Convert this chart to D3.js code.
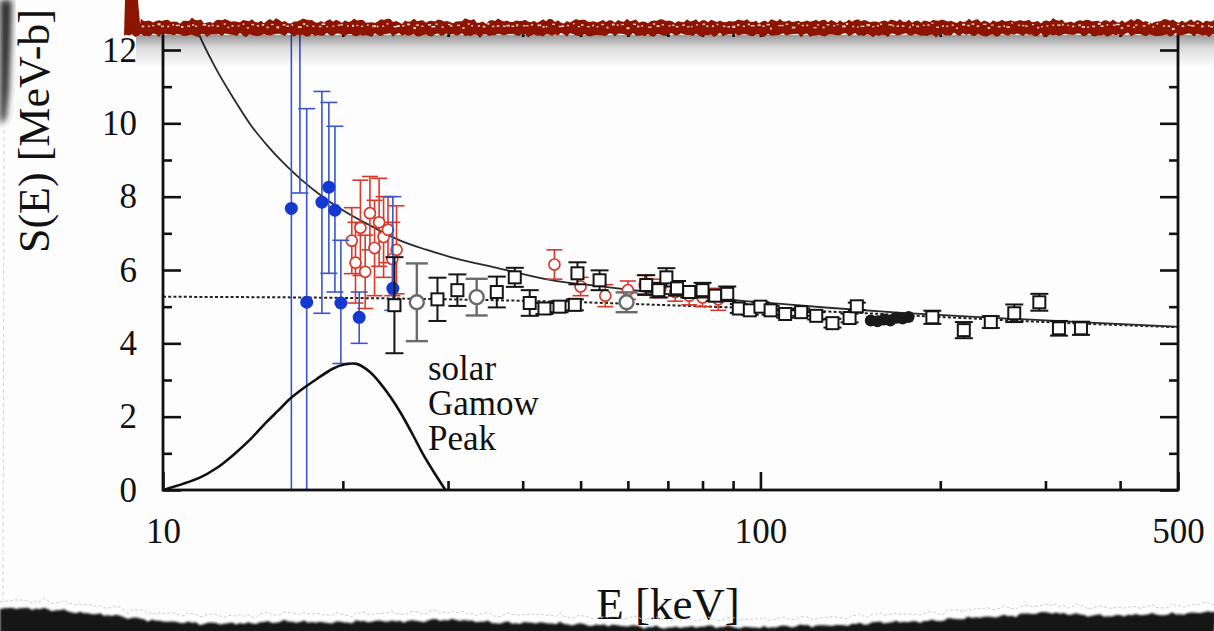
<!DOCTYPE html>
<html>
<head>
<meta charset="utf-8">
<script src="https://cdn.jsdelivr.net/npm/d3@7"></script>
<style>
  html, body { margin: 0; padding: 0; background: #ffffff; }
  svg { display: block; }
</style>
</head>
<body>
<svg id="chart" width="1214" height="631"></svg>
<script>
// ---- Astrophysical S-factor data, S(E) in MeV-b vs. centre-of-mass energy E in keV ----

// Screened theory curve (solid)
const theoryE = [11.0, 11.4, 12.2, 13.1, 14.0, 14.9, 16.0, 17.0, 18.5, 20.0, 22.0, 24.9, 27.5, 30.2, 36.6, 44.4, 55, 65, 80, 100, 130, 170, 250, 350, 500];
const theoryS = [13.2, 12.55, 11.56, 10.7, 9.97, 9.42, 8.88, 8.48, 8.0, 7.63, 7.25, 6.81, 6.56, 6.36, 6.04, 5.73, 5.54, 5.40, 5.25, 5.12, 4.97, 4.84, 4.69, 4.57, 4.45];

// Bare-nucleus S-factor (dotted)
const bareE = [10, 20, 30, 50, 70, 100, 150, 200, 300, 500];
const bareS = [5.27, 5.24, 5.2, 5.12, 5.04, 4.95, 4.82, 4.72, 4.58, 4.44];

// Solar Gamow peak (arbitrary units)
const gamowE = [10, 11.5, 12.3, 13.1, 14.0, 14.9, 15.6, 16.3, 17.2, 18.1, 19.2, 20.1, 21.1, 22.2, 23.0, 24.0, 25.0, 26.2, 27.3, 28.5, 29.7];
const gamowS = [0, 0.33, 0.60, 0.95, 1.38, 1.85, 2.17, 2.48, 2.78, 3.03, 3.30, 3.42, 3.44, 3.22, 2.95, 2.55, 2.10, 1.50, 0.95, 0.45, 0];

// Blue data set: filled circles
const blueE  = [16.4, 16.95, 17.4, 18.45, 18.95, 19.4, 19.85, 21.3, 24.25];
const blueS  = [7.68, 13.5, 5.12, 7.85, 8.26, 7.63, 5.10, 4.71, 5.50];
const blueLo = [-1.0, 8.1, -1.0, 4.82, 5.91, 5.40, 3.45, 4.00, 4.90];
const blueHi = [16.4, 18.9, 10.4, 10.87, 10.57, 9.92, 6.81, 5.40, 8.00];

// Red data set: open circles
const redE   = [20.7, 21.0, 21.4, 21.8, 22.2, 22.6, 23.0, 23.4, 23.8, 24.2, 24.6, 45.2, 50, 55, 60, 64, 68, 72, 76, 80, 85];
const redS   = [6.80, 6.20, 7.15, 5.95, 7.55, 6.60, 7.30, 6.90, 7.10, 6.30, 6.55, 6.15, 5.55, 5.30, 5.45, 5.60, 5.50, 5.40, 5.30, 5.25, 5.20];
const redErr = [0.9, 1.1, 1.3, 1.0, 1.0, 1.3, 1.2, 1.1, 0.9, 1.0, 1.2, 0.4, 0.25, 0.3, 0.25, 0.25, 0.25, 0.25, 0.25, 0.25, 0.3];

// Black data set: open squares
const sqE   = [24.4, 28.8, 31.1, 36.2, 38.8, 41.1, 43.5, 46.1, 48.9, 49.4, 53.8, 64.4, 67.5, 69.6, 72.5, 76, 80, 84, 88, 92, 96, 100, 104, 110, 117, 124, 132, 141, 145, 194, 219, 243, 266, 293, 316, 344];
const sqS   = [5.04, 5.20, 5.45, 5.40, 5.80, 5.10, 4.95, 5.00, 5.05, 5.91, 5.72, 5.59, 5.45, 5.80, 5.50, 5.40, 5.45, 5.30, 5.35, 4.95, 4.90, 5.00, 4.90, 4.80, 4.85, 4.75, 4.55, 4.69, 5.01, 4.71, 4.36, 4.58, 4.82, 5.12, 4.41, 4.41];
const sqErr = [1.31, 0.59, 0.43, 0.42, 0.26, 0.35, 0.15, 0.15, 0.15, 0.30, 0.27, 0.27, 0.20, 0.25, 0.20, 0.15, 0.20, 0.15, 0.20, 0.12, 0.12, 0.12, 0.12, 0.10, 0.10, 0.10, 0.12, 0.12, 0.10, 0.18, 0.22, 0.16, 0.24, 0.23, 0.20, 0.18];

// Grey data set: open circles
const greyE   = [26.6, 33.5, 59.7];
const greyS   = [5.12, 5.26, 5.12];
const greyErr = [1.06, 0.50, 0.27];

// Black filled circles
const dotE = [153, 157, 161, 165, 169, 173, 177];
const dotS = [4.62, 4.60, 4.65, 4.62, 4.70, 4.68, 4.72];

// Axis ticks
const xMajorTicks = [10, 100, 500];
const xMinorTicks = [20, 30, 40, 50, 60, 70, 80, 90, 200, 300, 400];
const yMajorTicks = [0, 2, 4, 6, 8, 10, 12];
const yMinorTicks = [1, 3, 5, 7, 9, 11];

// ---- Layout ----
const svg = d3.select("#chart");
const W = 1214, H = 631;
const pL = 163, pR = 1178, pB = 490, pT = 28;
const FONT = "'Liberation Serif', 'Times New Roman', serif";

const x = d3.scaleLog().domain([10, 500]).range([pL, pR]);
const y = d3.scaleLinear().domain([0, 12.6]).range([pB, pT]);

const defs = svg.append("defs");
defs.append("clipPath").attr("id", "plotClip")
  .append("rect").attr("x", pL).attr("y", pT).attr("width", pR - pL).attr("height", pB - pT);
const shadowGrad = defs.append("linearGradient").attr("id", "bandShadow")
  .attr("x1", 0).attr("y1", 0).attr("x2", 0).attr("y2", 1);
shadowGrad.append("stop").attr("offset", 0).attr("stop-color", "#000").attr("stop-opacity", 0.40);
shadowGrad.append("stop").attr("offset", 0.4).attr("stop-color", "#000").attr("stop-opacity", 0.13);
shadowGrad.append("stop").attr("offset", 1).attr("stop-color", "#000").attr("stop-opacity", 0);
defs.append("filter").attr("id", "soft").attr("x", -0.3).attr("y", -0.2).attr("width", 1.6).attr("height", 1.4)
  .append("feGaussianBlur").attr("stdDeviation", 3);
defs.append("filter").attr("id", "softer").attr("x", -0.1).attr("y", -0.5).attr("width", 1.2).attr("height", 2)
  .append("feGaussianBlur").attr("stdDeviation", 1.2);

svg.append("rect").attr("width", W).attr("height", H).attr("fill", "#fdfdfd");

// ---- Curves ----
const plot = svg.append("g").attr("clip-path", "url(#plotClip)");

const lineOf = (E, S, curve) => d3.line().curve(curve || d3.curveMonotoneX)
  .x((d, i) => x(E[i])).y((d, i) => y(S[i]))(E);

plot.append("path").attr("d", lineOf(bareE, bareS))
  .attr("fill", "none").attr("stroke", "#222").attr("stroke-width", 2)
  .attr("stroke-dasharray", "3,2.2");
plot.append("path").attr("d", lineOf(theoryE, theoryS))
  .attr("fill", "none").attr("stroke", "#2a2a2a").attr("stroke-width", 1.8);

// ---- Error bar helper ----
function errorBars(g, E, lo, hi, color, width, cap) {
  const sel = g.append("g").attr("stroke", color).attr("stroke-width", width).attr("fill", "none");
  E.forEach((e, i) => {
    const cx = x(e);
    sel.append("line").attr("x1", cx).attr("x2", cx).attr("y1", y(lo[i])).attr("y2", y(hi[i]));
    sel.append("line").attr("x1", cx - cap / 2).attr("x2", cx + cap / 2).attr("y1", y(lo[i])).attr("y2", y(lo[i]));
    sel.append("line").attr("x1", cx - cap / 2).attr("x2", cx + cap / 2).attr("y1", y(hi[i])).attr("y2", y(hi[i]));
  });
}

// Red open circles
errorBars(plot, redE, redS.map((s, i) => s - redErr[i]), redS.map((s, i) => s + redErr[i]), "#d8392b", 1.6, 16);
plot.append("g").selectAll("circle").data(redE).join("circle")
  .attr("cx", d => x(d)).attr("cy", (d, i) => y(redS[i])).attr("r", 5.5)
  .attr("fill", "#fff").attr("stroke", "#d8392b").attr("stroke-width", 1.7);

// Blue filled circles
errorBars(plot, blueE, blueLo, blueHi, "#3b55cc", 1.6, 17);
plot.append("g").selectAll("circle").data(blueE).join("circle")
  .attr("cx", d => x(d)).attr("cy", (d, i) => y(blueS[i])).attr("r", 6.5)
  .attr("fill", "#1438d0");

// Grey open circles
errorBars(plot, greyE, greyS.map((s, i) => s - greyErr[i]), greyS.map((s, i) => s + greyErr[i]), "#6a6a6a", 2.4, 22);
plot.append("g").selectAll("circle").data(greyE).join("circle")
  .attr("cx", d => x(d)).attr("cy", (d, i) => y(greyS[i])).attr("r", 7)
  .attr("fill", "#fff").attr("stroke", "#6a6a6a").attr("stroke-width", 2.4);

// Black open squares
errorBars(plot, sqE, sqS.map((s, i) => s - sqErr[i]), sqS.map((s, i) => s + sqErr[i]), "#151515", 2, 18);
plot.append("g").selectAll("rect").data(sqE).join("rect")
  .attr("x", d => x(d) - 6).attr("y", (d, i) => y(sqS[i]) - 6).attr("width", 12).attr("height", 12)
  .attr("fill", "#fff").attr("stroke", "#151515").attr("stroke-width", 2);

// Black filled circles
plot.append("g").selectAll("circle").data(dotE).join("circle")
  .attr("cx", d => x(d)).attr("cy", (d, i) => y(dotS[i])).attr("r", 6)
  .attr("fill", "#1a1a1a");

// Gamow peak
plot.append("path").attr("d", lineOf(gamowE, gamowS, d3.curveCatmullRom.alpha(0.5)))
  .attr("fill", "none").attr("stroke", "#111").attr("stroke-width", 2.6);

// ---- Axes ----
const axisColor = "#111";
function styleAxis(g) {
  g.select(".domain").remove();
  g.selectAll(".tick line").attr("stroke", axisColor).attr("stroke-width", 2.6);
  g.selectAll(".tick text").attr("fill", "#111").style("font-family", FONT).style("font-size", "35px");
}
svg.append("g").attr("transform", `translate(${pL},0)`)
  .call(d3.axisLeft(y).tickValues(yMajorTicks).tickSize(-18).tickPadding(26).tickFormat(d3.format("d")))
  .call(styleAxis);
svg.append("g").attr("transform", `translate(${pL},0)`)
  .call(d3.axisLeft(y).tickValues(yMinorTicks).tickSize(-9).tickFormat(""))
  .call(styleAxis);
svg.append("g").attr("transform", `translate(${pR},0)`)
  .call(d3.axisRight(y).tickValues(yMajorTicks).tickSize(-18).tickFormat(""))
  .call(styleAxis);
svg.append("g").attr("transform", `translate(${pR},0)`)
  .call(d3.axisRight(y).tickValues(yMinorTicks).tickSize(-9).tickFormat(""))
  .call(styleAxis);
svg.append("g").attr("transform", `translate(0,${pB})`)
  .call(d3.axisBottom(x).tickValues(xMajorTicks).tickSize(-18).tickPadding(28).tickFormat(d3.format("d")))
  .call(styleAxis);
svg.append("g").attr("transform", `translate(0,${pB})`)
  .call(d3.axisBottom(x).tickValues(xMinorTicks).tickSize(-9).tickFormat(""))
  .call(styleAxis);
svg.append("g").attr("transform", `translate(0,${pT})`)
  .call(d3.axisTop(x).tickValues(xMinorTicks.concat([100])).tickSize(-9).tickFormat(""))
  .call(styleAxis);

// Frame
svg.append("rect").attr("x", pL).attr("y", pT).attr("width", pR - pL).attr("height", pB - pT)
  .attr("fill", "none").attr("stroke", axisColor).attr("stroke-width", 2.8);

// ---- Text ----
svg.append("text").attr("transform", "translate(49,131) rotate(-90)")
  .attr("text-anchor", "middle").style("font-family", FONT).style("font-size", "44px").attr("fill", "#111")
  .text("S(E) [MeV-b]");
svg.append("text").attr("x", 668).attr("y", 619).attr("text-anchor", "middle")
  .style("font-family", FONT).style("font-size", "45px").attr("fill", "#111")
  .text("E [keV]");
const note = svg.append("text").style("font-family", FONT).style("font-size", "35px").attr("fill", "#111");
["solar", "Gamow", "Peak"].forEach((t, i) => {
  note.append("tspan").attr("x", 428).attr("y", 380 + i * 35).text(t);
});

// ---- Paper edges ----
// deterministic ragged edge offsets
const rag = (i, a) => a * (Math.sin(i * 1.7) + 0.7 * Math.sin(i * 4.31 + 1) + 0.5 * Math.sin(i * 9.13 + 2)
  + 0.6 * Math.sin(i * 0.37 + 0.5) + 0.4 * Math.sin(i * 2.93 + 3)) / 2.6;

// shadow under the top strip
svg.append("rect").attr("x", 136).attr("y", 35).attr("width", W - 136).attr("height", 32)
  .attr("fill", "url(#bandShadow)");

// top strip: white sheet with a torn red edge
const steps = d3.range(126, W + 3, 3);
const redTop = steps.map((px, i) => [px, 21 + rag(i * 1.3, 3)]);
const redBot = steps.map((px, i) => [px, 35 + rag(i * 0.9 + 50, 2.6)]);
svg.append("path").attr("d", d3.line()(redBot.slice().reverse().concat([[124, 36 + rag(3, 2)], [125, 0], [W, 0]])) + "Z")
  .attr("fill", "#8c1400");
svg.append("path").attr("d", d3.line()(redTop.filter(p => p[0] >= 140).reverse()
    .concat([[140, 24], [139 + rag(5, 2), 14], [138 + rag(9, 2), 6], [138, 0], [W, 0]])) + "Z")
  .attr("fill", "#ffffff");
// speckled fibres along the torn edge
svg.append("g").selectAll("rect").data(d3.range(142, W, 5)).join("rect")
  .attr("x", (d, i) => d + rag(i + 3, 2))
  .attr("y", (d, i) => 25 + rag(i * 1.9 + 20, 2.8))
  .attr("width", (d, i) => 1.5 + Math.abs(rag(i + 7, 2.5)))
  .attr("height", (d, i) => 1.2 + Math.abs(rag(i + 11, 0.9)))
  .attr("fill", "#fff").attr("opacity", 0.85);

// dark shadow on the left edge
svg.append("path").attr("d", "M0,0 L12,0 L11,40 L9,90 L6,118 L0,125 Z")
  .attr("fill", "#2b2b2b").attr("filter", "url(#soft)");
svg.append("line").attr("x1", 4).attr("x2", 3).attr("y1", 130).attr("y2", 600)
  .attr("stroke", "#d4d4d4").attr("stroke-width", 1).attr("stroke-dasharray", "4,3");

// torn dark edge at the bottom
const bottomProfile = [[0, 608], [60, 610], [130, 618], [200, 624], [280, 622], [360, 622], [440, 620],
  [520, 623], [580, 624], [640, 627], [720, 627], [780, 627], [860, 624], [960, 619], [1040, 613],
  [1120, 616], [1214, 612]];
const bottomEdge = d3.range(0, W + 4, 4).map((px, i) => {
  let k = 0; while (k < bottomProfile.length - 2 && bottomProfile[k + 1][0] < px) k++;
  const a = bottomProfile[k], b = bottomProfile[k + 1];
  const t = Math.min(1, Math.max(0, (px - a[0]) / (b[0] - a[0])));
  return [px, a[1] + (b[1] - a[1]) * t + rag(i * 0.8 + 90, 2.2)];
});
svg.append("path").attr("d", d3.line()(bottomEdge.concat([[W, H + 5], [0, H + 5]])) + "Z")
  .attr("fill", "#141414").attr("filter", "url(#softer)");
svg.append("path").attr("d", d3.line()(bottomEdge.map((p, i) => [p[0], p[1] - 8 + rag(i * 0.6, 1.8)])))
  .attr("fill", "none").attr("stroke", "#cfcfcf").attr("stroke-width", 1).attr("stroke-dasharray", "3,2");
</script>
</body>
</html>
